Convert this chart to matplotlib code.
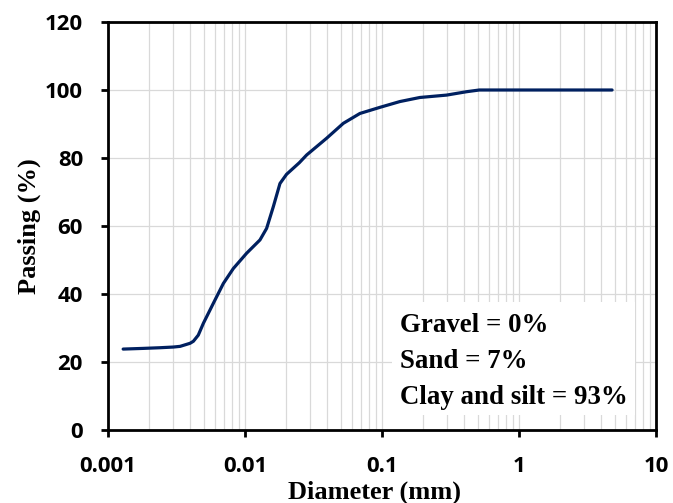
import matplotlib.pyplot as plt
from matplotlib.ticker import LogLocator, FixedLocator, NullFormatter

# grain size curve
diameter = [0.00129, 0.0018, 0.0024, 0.0030, 0.00336, 0.00397, 0.0042, 0.00456, 0.00497,
            0.00588, 0.00695, 0.00822, 0.01028, 0.01286, 0.01438, 0.0161, 0.0180,
            0.0201, 0.0249, 0.0282, 0.0394, 0.0522, 0.069, 0.0966, 0.135, 0.189,
            0.296, 0.415, 0.513, 1.0, 2.0, 4.78]
passing = [23.8, 24.0, 24.2, 24.4, 24.6, 25.5, 26.1, 27.9, 31.4,
           37.3, 43.1, 47.5, 52.0, 55.9, 59.3, 65.7, 72.5,
           75.2, 78.6, 80.9, 85.8, 90.2, 93.1, 94.9, 96.6, 97.8,
           98.5, 99.5, 100.0, 100.0, 100.0, 100.0]

summary = ['Gravel = 0%', 'Sand = 7%', 'Clay and silt = 93%']

fig = plt.figure(figsize=(6.73, 5.03), dpi=100)
ax = fig.add_axes([108/673, 1-430/503, 548/673, 408/503])

ax.plot(diameter, passing, color='#002060', lw=2.3, solid_joinstyle='round',
        solid_capstyle='round', zorder=3)

ax.set_xscale('log')
ax.set_xlim(0.001, 10)
ax.set_ylim(0, 120)
ax.set_yticks(range(0, 121, 20))
ax.xaxis.set_major_locator(FixedLocator([0.001, 0.01, 0.1, 1, 10]))
ax.set_xticklabels(['0.001', '0.01', '0.1', '1', '10'])
ax.xaxis.set_minor_locator(LogLocator(base=10, subs=range(2, 10)))
ax.xaxis.set_minor_formatter(NullFormatter())

ax.grid(True, which='both', color='#d9d9d9', lw=0.9, zorder=0)
ax.set_axisbelow(True)
for s in ax.spines.values():
    s.set_linewidth(2.0)
ax.tick_params(which='major', direction='out', length=5, width=2.0)
ax.tick_params(axis='x', pad=14)
ax.tick_params(axis='y', pad=13)
ax.tick_params(which='minor', length=0)
for lab in ax.get_xticklabels() + ax.get_yticklabels():
    lab.set_fontfamily('Open Sans')
    lab.set_fontweight('bold')
    lab.set_fontsize(16)

ax.set_ylabel('Passing (%)', fontfamily='Liberation Serif', fontweight='bold', fontsize=19, va='center')
ax.yaxis.set_label_coords(-0.144, 0.5)
ax.set_xlabel('Diameter (mm)', fontfamily='Liberation Serif', fontweight='bold', fontsize=19, va='center')
ax.xaxis.set_label_coords(0.487, -0.152)

# white box with the grain size summary
box = plt.Rectangle((392/673, 1-415/503), 243/673, 113/503, transform=fig.transFigure,
                    facecolor='white', edgecolor='none', zorder=4)
fig.add_artist(box)
for i, t in enumerate(summary):
    fig.text(400/673, 1-(325+36*i)/503, t, fontfamily='Liberation Serif', fontweight='bold',
             fontsize=19.4, va='center', ha='left', zorder=5)

fig.savefig('out.png', dpi=100)
